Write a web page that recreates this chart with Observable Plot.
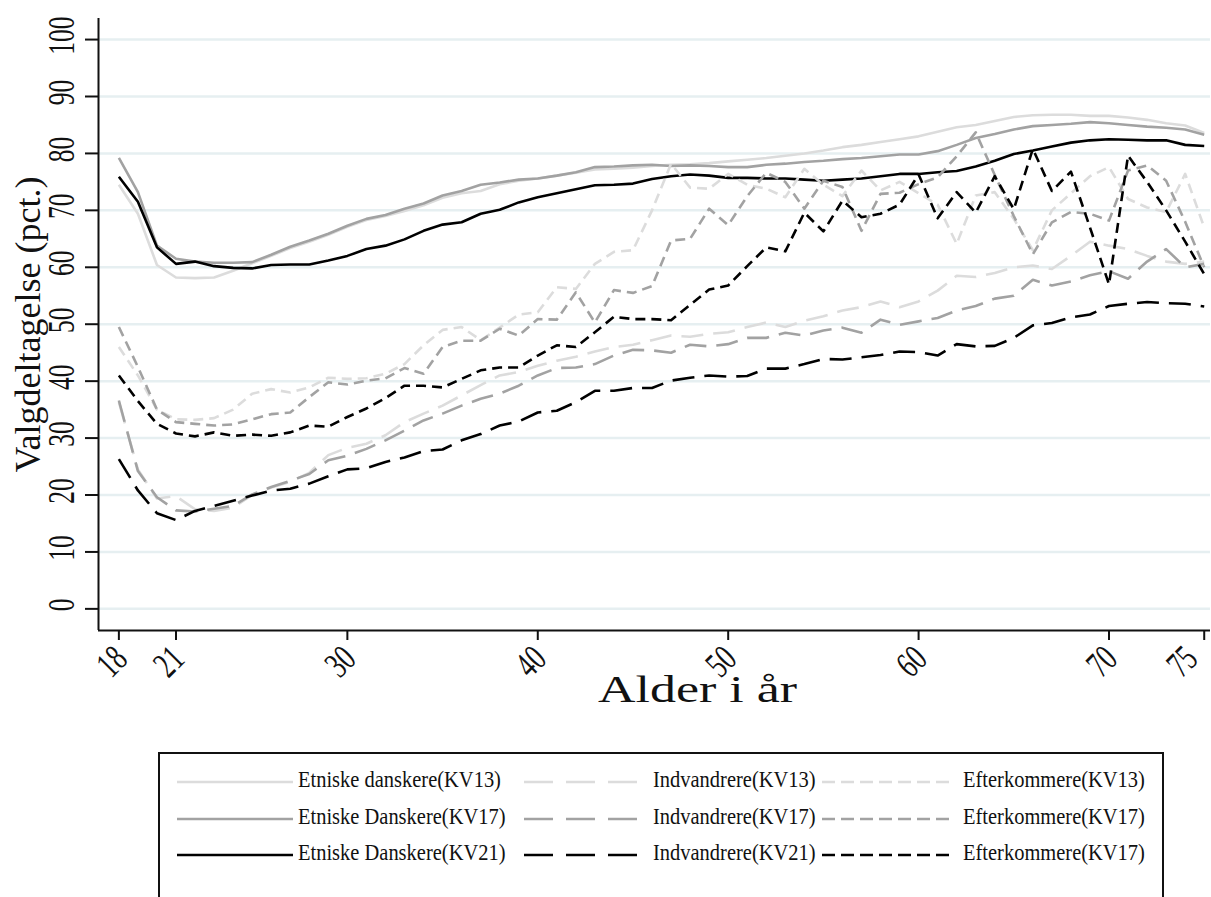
<!DOCTYPE html>
<html>
<head>
<meta charset="utf-8">
<script src="https://cdn.jsdelivr.net/npm/d3@7"></script>
<script src="https://cdn.jsdelivr.net/npm/@observablehq/plot@0.6"></script>
<style>
  body { margin: 0; background: #fff; font-family: "Liberation Serif", "Times New Roman", serif; }
  #chart { width: 1211px; height: 720px; }
  #legend { position: absolute; left: 158px; top: 752px; width: 1006px; height: 160px; border: 2px solid #111; box-sizing: border-box; background: #fff; }
  .item { position: absolute; height: 30px; }
  .item svg { position: absolute; left: 0; top: 0; }
  .item span { position: absolute; top: 0px; font-size: 23px; white-space: nowrap; transform-origin: 0 50%; color: #111; }
</style>
</head>
<body>
<div id="chart"></div>
<div id="legend"></div>
<script>
// ---------- data ----------
const ages = d3.range(18, 76); // 18 .. 75

const etniskeKV13 = [74.5,69.4,60.4,58.2,58.1,58.2,59.4,60.7,62.0,63.4,64.5,65.7,67.1,68.3,69.0,69.9,70.9,72.2,73.0,73.4,74.6,75.2,75.6,76.1,76.6,77.2,77.3,77.5,77.8,78.0,78.1,78.3,78.6,78.9,79.2,79.6,80.0,80.5,81.1,81.5,82.0,82.5,83.0,83.8,84.6,85.0,85.7,86.4,86.7,86.8,86.8,86.6,86.6,86.3,85.9,85.3,84.9,83.6];
const etniskeKV17 = [79.2,73.2,63.8,61.5,61.0,60.8,60.8,60.9,62.2,63.6,64.7,65.9,67.3,68.5,69.2,70.3,71.2,72.6,73.4,74.5,74.9,75.4,75.6,76.1,76.7,77.6,77.7,77.9,78.0,77.8,77.9,77.8,77.6,77.6,78.0,78.2,78.5,78.7,79.0,79.2,79.5,79.8,79.8,80.4,81.5,82.7,83.4,84.2,84.8,85.0,85.2,85.5,85.3,85.0,84.7,84.5,84.2,83.3];
const etniskeKV21 = [75.9,71.5,63.5,60.6,61.0,60.2,59.9,59.8,60.4,60.5,60.5,61.2,62.0,63.2,63.8,64.9,66.4,67.5,67.9,69.4,70.1,71.4,72.3,73.0,73.7,74.4,74.5,74.7,75.5,76.0,76.3,76.1,75.7,75.7,75.6,75.6,75.4,75.2,75.4,75.6,76.0,76.4,76.4,76.7,76.9,77.7,78.7,79.9,80.5,81.2,81.9,82.3,82.5,82.4,82.3,82.3,81.5,81.3];
const indvKV13 = [36.3,24.5,19.4,19.8,17.5,17.2,17.8,20.0,21.3,22.3,23.9,27.0,28.3,29.0,30.5,32.8,34.3,35.7,37.5,39.3,41.0,41.6,42.7,43.6,44.3,45.2,46.0,46.4,47.2,48.0,47.8,48.3,48.6,49.5,50.3,49.5,50.6,51.4,52.4,53.0,54.0,53.0,54.0,55.9,58.5,58.3,59.0,60.0,60.3,59.7,62.0,64.5,63.8,63.2,62.0,61.0,60.6,61.0];
const indvKV17 = [36.6,24.2,19.6,17.3,17.1,17.6,18.1,20.1,21.4,22.5,23.7,26.1,26.9,28.1,29.6,31.3,33.1,34.3,35.7,36.9,37.8,39.2,41.0,42.3,42.4,43.0,44.5,45.5,45.4,45.0,46.4,46.1,46.5,47.6,47.6,48.5,48.0,48.9,49.4,48.5,50.8,49.9,50.5,51.1,52.4,53.2,54.5,55.0,57.8,56.8,57.5,58.6,59.3,58.0,61.0,63.2,60.0,60.6];
const indvKV21 = [26.3,20.8,16.8,15.6,17.2,18.1,19.0,19.9,20.8,21.1,22.0,23.3,24.5,24.7,25.8,26.6,27.7,28.0,29.6,30.7,32.2,32.9,34.5,34.8,36.3,38.3,38.3,38.8,38.8,40.1,40.6,41.0,40.8,40.9,42.2,42.2,43.0,43.9,43.8,44.2,44.6,45.2,45.1,44.5,46.5,46.1,46.2,47.6,49.8,50.2,51.2,51.7,53.2,53.6,53.9,53.7,53.6,53.1];
const efterKV13 = [46.0,41.0,35.0,33.3,33.2,33.5,35.0,37.8,38.6,38.0,38.9,40.6,40.4,40.5,41.3,43.0,46.3,49.0,49.5,47.2,49.4,51.7,52.1,56.5,56.2,60.6,62.7,63.0,70.0,78.2,74.0,73.8,76.4,74.5,73.8,72.3,77.3,74.5,72.5,77.0,73.5,75.0,73.0,71.0,64.1,72.6,73.2,68.5,63.0,70.0,73.0,76.0,77.6,72.0,70.5,69.7,76.4,67.0];
const efterKV17 = [49.5,42.5,35.0,32.8,32.5,32.2,32.4,33.3,34.2,34.5,37.2,39.8,39.4,40.1,40.5,42.3,41.3,46.0,47.1,47.1,49.2,48.0,50.9,50.8,55.6,50.3,56.0,55.5,56.7,64.7,65.0,70.3,67.4,72.5,76.6,75.0,70.3,75.2,74.1,66.4,72.9,73.1,74.6,75.8,79.5,83.7,76.2,69.0,62.3,67.9,69.7,69.4,68.2,77.0,77.9,75.2,68.0,60.0];
const efterKV21 = [41.0,36.5,32.5,30.8,30.3,31.0,30.4,30.6,30.4,31.0,32.2,32.0,33.7,35.2,37.0,39.2,39.2,38.9,40.4,41.9,42.4,42.4,44.5,46.3,46.0,48.6,51.3,50.9,50.9,50.7,53.4,56.1,56.8,60.2,63.5,62.8,69.6,66.3,71.7,68.8,69.4,71.0,76.3,68.6,73.2,69.6,76.0,70.2,80.8,73.4,76.8,67.0,57.0,79.6,75.0,70.0,64.5,58.8];

const seriesLabels = [
  "Etniske danskere(KV13)", "Etniske Danskere(KV17)", "Etniske Danskere(KV21)",
  "Indvandrere(KV13)", "Indvandrere(KV17)", "Indvandrere(KV21)",
  "Efterkommere(KV13)", "Efterkommere(KV17)", "Efterkommere(KV17)"
];
const seriesValues = [etniskeKV13, etniskeKV17, etniskeKV21, indvKV13, indvKV17, indvKV21, efterKV13, efterKV17, efterKV21];

const yTicks = d3.range(0, 101, 10);
const xTicks = [18, 21, 30, 40, 50, 60, 70, 75];
const xTitle = "Alder i år";
const yTitle = "Valgdeltagelse (pct.)";

// ---------- styles ----------
const shades = ["#dcdcdc", "#a2a2a2", "#000000"];
const dashes = [null, "22,10", "10,6"];
const legendDashes = [null, "29,13", "13,6"];
const styleOf = i => ({ stroke: shades[i % 3], dash: dashes[Math.floor(i / 3)], ldash: legendDashes[Math.floor(i / 3)] });
const xDomain = [16.93, 75.33];
const yDomain = [-3.8, 103.7];
const serif = "Liberation Serif";

const rows = seriesValues.flatMap((vals, i) => vals.map((v, j) => ({ age: ages[j], value: v, series: i })));

const lineMarks = seriesValues.map((_, i) => {
  const s = styleOf(i);
  return Plot.line(rows.filter(d => d.series === i), {
    x: "age", y: "value", stroke: s.stroke, strokeWidth: 2.6,
    strokeDasharray: s.dash, strokeLinejoin: "round", strokeLinecap: "butt"
  });
});

const xLabelStyle = { text: d => String(d), frameAnchor: "bottom", textAnchor: "end", lineAnchor: "middle", rotate: -45, dy: 22, fontSize: 37, fontFamily: serif, fill: "#111", className: "xtl" };

const chart = Plot.plot({
  width: 1211, height: 720,
  marginLeft: 98, marginTop: 18, marginRight: 1, marginBottom: 90,
  style: { background: "#fff", color: "#111", fontFamily: serif },
  x: { domain: xDomain, label: null, axis: null },
  y: { domain: yDomain, label: null, axis: null },
  marks: [
    Plot.gridY(yTicks, { stroke: "#e6eff1", strokeOpacity: 1, strokeWidth: 2.5 }),
    Plot.ruleX([xDomain[0]], { stroke: "#111", strokeWidth: 2 }),
    Plot.ruleY([yDomain[0]], { stroke: "#111", strokeWidth: 2 }),
    Plot.ruleY(yTicks, { y: d => d, x1: xDomain[0], x2: xDomain[0], insetLeft: -13, stroke: "#111", strokeWidth: 2 }),
    Plot.text(yTicks, { y: d => d, text: d => String(d), frameAnchor: "left", textAnchor: "middle", lineAnchor: "middle", rotate: -90, dx: -36, dy: -4, fontSize: 37, fontFamily: serif, fill: "#111", className: "ytl" }),
    Plot.ruleX(xTicks, { x: d => d, y1: yDomain[0], y2: yDomain[0], stroke: "#111", strokeWidth: 2, insetBottom: -10, insetTop: 0 }),
    Plot.text(xTicks.slice(0, -1), { x: d => d, dx: 2, ...xLabelStyle }),
    Plot.text(xTicks.slice(-1), { x: d => d, dx: -13, ...xLabelStyle }),
    ...lineMarks,
    Plot.text([yTitle], { frameAnchor: "left", textAnchor: "middle", lineAnchor: "middle", rotate: -90, dx: -70, fontSize: 36, fontFamily: serif, fill: "#111" }),
    Plot.text([xTitle], { frameAnchor: "bottom", textAnchor: "middle", lineAnchor: "bottom", dx: 43, dy: 71, fontSize: 38, fontFamily: serif, fill: "#111", className: "xtitle" })
  ]
});
document.getElementById("chart").appendChild(chart);

// condensed look of the tick numbers, wide look of the x title (scale along the text direction)
chart.querySelectorAll('.ytl text, .xtl text').forEach(t => {
  t.setAttribute("transform", (t.getAttribute("transform") || "") + " scale(0.69,1)");
});
chart.querySelectorAll('.xtitle text').forEach(t => {
  const len = t.getComputedTextLength();
  t.setAttribute("transform", (t.getAttribute("transform") || "") + ` scale(${(199 / len).toFixed(3)},1)`);
});

// ---------- legend ----------
const legend = document.getElementById("legend");
const colX = [17, 364, 662];
const colW = [116, 119, 132];
const textX = [138, 493, 803];
const rowY = [13, 50, 86];
seriesLabels.forEach((lab, i) => {
  const row = i % 3, col = Math.floor(i / 3);
  const s = styleOf(i);
  const item = document.createElement("div");
  item.className = "item";
  item.style.left = colX[col] + "px";
  item.style.top = rowY[row] + "px";
  const w = colW[col];
  item.innerHTML = `<svg width="${w}" height="30"><line x1="0" x2="${w}" y1="15" y2="15" stroke="${s.stroke}" stroke-width="2.6" ${s.ldash ? `stroke-dasharray="${s.ldash}"` : ""}/></svg>`;
  const sp = document.createElement("span");
  sp.textContent = lab;
  sp.style.left = (textX[col] - colX[col]) + "px";
  sp.style.transform = "scaleX(0.89)";
  item.appendChild(sp);
  legend.appendChild(item);
});
</script>
</body>
</html>
